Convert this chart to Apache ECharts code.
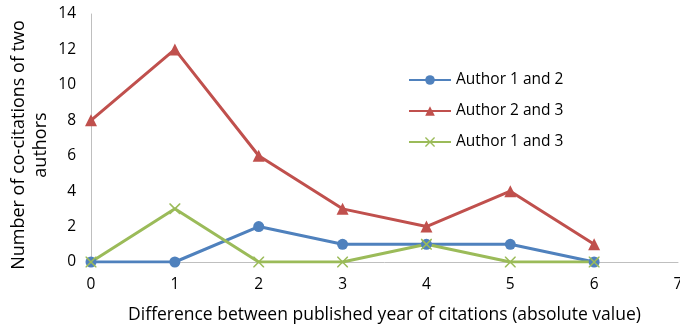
<!DOCTYPE html>
<html>
<head>
<meta charset="utf-8">
<script src="https://cdn.jsdelivr.net/npm/echarts@6/dist/echarts.min.js"></script>
<style>
  html, body { margin: 0; padding: 0; background: #fff; }
  #chart { width: 680px; height: 330px; }
</style>
</head>
<body>
<div id="chart"></div>
<script>
// values
let xValues = [0, 1, 2, 3, 4, 5, 6];
let author12 = [0, 0, 2, 1, 1, 1, 0];
let author23 = [8, 12, 6, 3, 2, 4, 1];
let author13 = [0, 3, 0, 0, 1, 0, 0];
let seriesNames = ['Author 1 and 2', 'Author 2 and 3', 'Author 1 and 3'];

const FONT = 'Open Sans';
const crossPath = 'path://M0,0L1,0L10,9L10,10L9,10L0,1ZM10,0L10,1L1,10L0,10L0,9L9,0Z';

function pairs(values) {
    return values.map((v, i) => [xValues[i], v]);
}

let myChart = echarts.init(document.getElementById('chart'));

let option = {
    animation: false,
    textStyle: { fontFamily: FONT },
    grid: { left: 91, right: 2, top: 14, bottom: 68, outerBoundsMode: 'none' },
    legend: {
        orient: 'vertical',
        left: 403,
        top: 67,
        itemWidth: 42,
        itemHeight: 12,
        itemGap: 15,
        textStyle: { fontFamily: FONT, fontSize: 15.5, color: '#000' },
        data: seriesNames
    },
    xAxis: {
        type: 'value',
        min: 0, max: 7, interval: 1,
        name: 'Difference between published year of citations (absolute value)',
        nameLocation: 'middle',
        nameGap: 44,
        nameMoveOverlap: false,
        nameTextStyle: { fontFamily: FONT, fontSize: 17.5, color: '#000' },
        axisLine: { lineStyle: { color: '#bfbfbf', width: 1 } },
        axisTick: { show: false },
        splitLine: { show: false },
        axisLabel: { margin: 15, fontSize: 15.5, color: '#000', fontFamily: FONT }
    },
    yAxis: {
        type: 'value',
        min: 0, max: 14, interval: 2,
        name: 'Number of co-citations of two\nauthors',
        nameLocation: 'middle',
        nameGap: 39,
        nameMoveOverlap: false,
        nameRotate: 90,
        nameTextStyle: { fontFamily: FONT, fontSize: 18, color: '#000', lineHeight: 22, padding: [0, 14, 0, 0] },
        axisLine: { show: true, lineStyle: { color: '#bfbfbf', width: 1 } },
        axisTick: { show: false },
        splitLine: { show: false },
        axisLabel: { margin: 15, fontSize: 15.5, color: '#000', fontFamily: FONT }
    },
    series: [
        {
            name: seriesNames[0],
            type: 'line',
            data: pairs(author12),
            symbol: 'circle',
            symbolSize: 11,
            lineStyle: { color: '#4F81BD', width: 3 },
            itemStyle: { color: '#4F81BD' }
        },
        {
            name: seriesNames[1],
            type: 'line',
            data: pairs(author23),
            symbol: 'triangle',
            symbolSize: 12,
            lineStyle: { color: '#C0504D', width: 3 },
            itemStyle: { color: '#C0504D' }
        },
        {
            name: seriesNames[2],
            type: 'line',
            data: pairs(author13),
            symbol: crossPath,
            symbolSize: 11,
            lineStyle: { color: '#9BBB59', width: 3 },
            itemStyle: { color: '#9BBB59' }
        }
    ]
};

myChart.setOption(option);
</script>
</body>
</html>
